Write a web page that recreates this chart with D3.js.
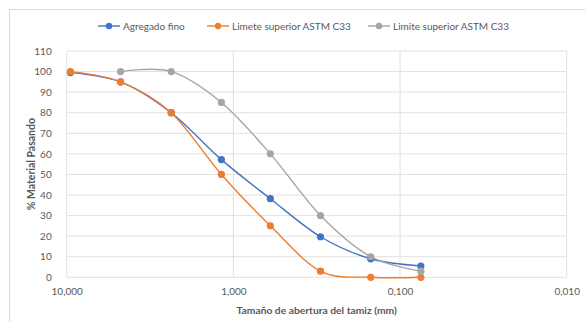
<!DOCTYPE html>
<html>
<head>
<meta charset="utf-8">
<script src="https://cdn.jsdelivr.net/npm/d3@7"></script>
<style>
  html, body { margin: 0; padding: 0; background: #fff; }
  svg { display: block; font-family: Lato, "Open Sans", sans-serif; }
</style>
</head>
<body>
<svg id="chart" width="585" height="322"></svg>
<script>
// Sieve openings (mm) and percent passing for each series
const sieveSizes = [9.5, 4.75, 2.36, 1.18, 0.6, 0.3, 0.15, 0.075];
const agregadoFino = [99.5, 95, 80, 57.2, 38.2, 19.7, 9.0, 5.5];
const limeteSuperior = [100, 95, 80, 50, 25, 3, 0, 0];
const limiteSuperior = [null, 100, 100, 85, 60, 30, 10, 3];

const seriesNames = ["Agregado fino", "Limete superior ASTM C33", "Limite superior ASTM C33"];
const seriesColors = ["#4472C4", "#ED7D31", "#A5A5A5"];

const xTicks = [10, 1, 0.1, 0.01];
const yTicks = [0, 10, 20, 30, 40, 50, 60, 70, 80, 90, 100, 110];

const xTitle = "Tamaño de abertura del tamiz (mm)";
const yTitle = "% Material Pasando";

const svg = d3.select("#chart");
const textColor = "#595959";
const gridColor = "#E1E1E1";

const plot = { left: 66.7, right: 566.7, top: 51, bottom: 277.3 };

const x = d3.scaleLog().domain([10, 0.01]).range([plot.left, plot.right]);
const y = d3.scaleLinear().domain([0, 110]).range([plot.bottom, plot.top]);

const esLocale = d3.formatLocale({ decimal: ",", thousands: ".", grouping: [3], currency: ["", " €"] });
const fmt = esLocale.format(".3f");

// Outer chart frame
svg.append("rect")
  .attr("x", 9.5).attr("y", 9.5)
  .attr("width", 600).attr("height", 340)
  .attr("fill", "none").attr("stroke", "#D9D9D9").attr("stroke-width", 1);

// Horizontal gridlines
svg.append("g")
  .selectAll("line")
  .data(yTicks)
  .join("line")
  .attr("x1", plot.left).attr("x2", plot.right)
  .attr("y1", d => y(d)).attr("y2", d => y(d))
  .attr("stroke", gridColor).attr("stroke-width", 1);

// Vertical gridlines at each decade
svg.append("g")
  .selectAll("line")
  .data(xTicks)
  .join("line")
  .attr("x1", d => x(d)).attr("x2", d => x(d))
  .attr("y1", plot.top).attr("y2", plot.bottom)
  .attr("stroke", gridColor).attr("stroke-width", 1);

// Y axis labels
const yAxis = d3.axisLeft(y).tickValues(yTicks).tickSize(0).tickPadding(0);
const gy = svg.append("g").attr("transform", `translate(${plot.left - 15},0)`).call(yAxis);
gy.select(".domain").remove();
gy.selectAll("text")
  .attr("fill", textColor)
  .attr("font-size", "10px")
  .attr("font-family", "Lato, sans-serif");

// X axis labels
const xAxis = d3.axisBottom(x).tickValues(xTicks).tickFormat(fmt).tickSize(0).tickPadding(0);
const gx = svg.append("g").attr("transform", `translate(0,${plot.bottom + 10.5})`).call(xAxis);
gx.select(".domain").remove();
gx.selectAll("text")
  .attr("fill", textColor)
  .attr("font-size", "10px")
  .attr("font-family", "Lato, sans-serif");

// Axis titles
svg.append("text")
  .attr("x", (plot.left + plot.right) / 2)
  .attr("y", 313.5)
  .attr("text-anchor", "middle")
  .attr("fill", textColor)
  .attr("font-size", "10.3px")
  .attr("font-weight", "bold")
  .text(xTitle);

svg.append("text")
  .attr("transform", `translate(35,${(plot.top + plot.bottom) / 2}) rotate(-90)`)
  .attr("text-anchor", "middle")
  .attr("fill", textColor)
  .attr("font-size", "10.5px")
  .attr("font-weight", "bold")
  .text(yTitle);

// Series lines and markers
const allSeries = [agregadoFino, limeteSuperior, limiteSuperior];
const line = d3.line()
  .defined(d => d[1] != null)
  .x(d => x(d[0]))
  .y(d => y(d[1]))
  .curve(d3.curveCardinal.tension(0));

allSeries.forEach((values, i) => {
  const pts = sieveSizes.map((s, k) => [s, values[k]]).filter(d => d[1] != null);
  const g = svg.append("g");
  g.append("path")
    .datum(pts)
    .attr("d", line)
    .attr("fill", "none")
    .attr("stroke", seriesColors[i])
    .attr("stroke-width", 1.4);
  g.selectAll("circle")
    .data(pts)
    .join("circle")
    .attr("cx", d => x(d[0]))
    .attr("cy", d => y(d[1]))
    .attr("r", 3.6)
    .attr("fill", seriesColors[i]);
});

// Legend
const legendX = [98, 207, 368];
const legend = svg.append("g");
seriesNames.forEach((name, i) => {
  const lg = legend.append("g").attr("transform", `translate(${legendX[i]},26)`);
  lg.append("line").attr("x1", 0).attr("x2", 22).attr("y1", 0).attr("y2", 0)
    .attr("stroke", seriesColors[i]).attr("stroke-width", 1.4);
  lg.append("circle").attr("cx", 11).attr("cy", 0).attr("r", 3.2).attr("fill", seriesColors[i]);
  lg.append("text").attr("x", 25).attr("y", 0).attr("dy", "0.35em")
    .attr("fill", textColor).attr("font-size", "10px")
    .text(name);
});
</script>
</body>
</html>
